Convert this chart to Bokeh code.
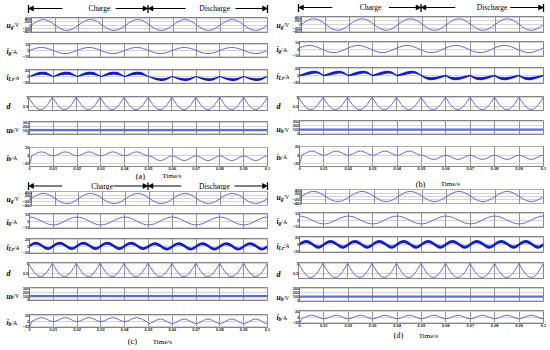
from bokeh.plotting import figure
from bokeh.layouts import column, row
from bokeh.models import Range1d, FixedTicker, Arrow, NormalHead, Grid
from bokeh.core.properties import value
from bokeh.embed import file_html
from bokeh.resources import INLINE

# ---------------------------------------------------------------- data
# sample instants, 1 ms apart (0 .. 0.1 s), expressed in ms
t_ms = list(range(101))
x_tick_ms = [0, 10, 20, 30, 40, 50, 60, 70, 80, 90, 100]
x_tick_labels = ["0", "0.01", "0.02", "0.03", "0.04", "0.05", "0.06", "0.07", "0.08", "0.09", "0.1"]

# grid voltage, one 20 ms cycle read at 1 ms steps (V)
ug_cycle = [0, 96, 183, 252, 296, 311, 296, 252, 183, 96,
            0, -96, -183, -252, -296, -311, -296, -252, -183, -96]
# grid current, one 20 ms cycle (A)
ig_cycle_a = [0, 1.5, 2.9, 4.0, 4.8, 5.0, 4.8, 4.0, 2.9, 1.5,
              0, -1.5, -2.9, -4.0, -4.8, -5.0, -4.8, -4.0, -2.9, -1.5]
ig_cycle_b = [1.7, 3.2, 4.4, 5.2, 5.5, 5.2, 4.4, 3.2, 1.7, 0,
              -1.7, -3.2, -4.4, -5.2, -5.5, -5.2, -4.4, -3.2, -1.7, 0]
ig_cycle_cd = [6, 5.7, 4.9, 3.5, 1.9, 0, -1.9, -3.5, -4.9, -5.7,
               -6, -5.7, -4.9, -3.5, -1.9, 0, 1.9, 3.5, 4.9, 5.7]

# resonant current ripple band (upper / lower envelope), one 10 ms cycle (A)
ilr_a_up_charge = [1.5, 5.0, 9.0, 12.5, 15.0, 16.0, 16.0, 14.5, 11.0, 6.0]
ilr_a_lo_charge = [-1.5, 0.0, 2.0, 3.8, 5.0, 5.8, 6.0, 5.2, 3.5, 1.0]
ilr_a_up_dis = [1.5, -0.5, -2.5, -4.0, -5.0, -5.5, -5.5, -4.8, -3.2, -0.8]
ilr_a_lo_dis = [-1.5, -5.0, -8.5, -11.5, -13.5, -14.5, -14.5, -13.0, -10.0, -5.5]
ilr_b_up_charge = [2.0, 4.5, 7.0, 9.5, 11.5, 13.0, 13.5, 13.0, 10.5, 6.0]
ilr_b_lo_charge = [-2.0, -1.5, 0.0, 1.5, 3.0, 4.5, 5.5, 5.5, 4.0, 1.5]
ilr_b_up_dis = [2.0, -1.5, -3.5, -4.5, -5.0, -4.5, -3.5, -2.5, -1.0, 0.5]
ilr_b_lo_dis = [-2.0, -7.0, -11.0, -13.0, -13.5, -13.0, -11.5, -9.5, -7.0, -4.0]
ilr_c_up_charge = [4.5, 9.5, 12.5, 13.0, 10.5, 6.5, 1.5, -2.5, -3.5, -0.5]
ilr_c_lo_charge = [-4.5, 0.5, 3.5, 4.0, 1.5, -2.5, -7.5, -11.5, -12.5, -9.5]
ilr_c_up_dis = [3.0, 8.0, 11.0, 11.5, 9.0, 5.0, 0.0, -4.0, -5.0, -2.0]
ilr_c_lo_dis = [-6.0, -1.0, 2.0, 2.5, 0.0, -4.0, -9.0, -13.0, -14.0, -11.0]
ilr_d_up = [4.5, 9.5, 12.5, 13.0, 10.5, 6.5, 1.5, -2.5, -3.5, -0.5]
ilr_d_lo = [-4.5, 0.5, 3.5, 4.0, 1.5, -2.5, -7.5, -11.5, -12.5, -9.5]

# duty ratio, one 10 ms cycle
d_cycle = [1.0, 0.79, 0.60, 0.45, 0.35, 0.32, 0.35, 0.45, 0.60, 0.79]

# battery voltage (V)
ub_level = 100

# battery current, one 10 ms cycle (A), and the start-up value at t = 0
ib_a_charge = [0, 1.0, 3.5, 6.5, 9.0, 10.0, 9.0, 6.5, 3.5, 1.0]
ib_a_dis = [0, -1.2, -4.2, -7.8, -10.8, -12.0, -10.8, -7.8, -4.2, -1.2]
ib_b_charge = [0, 1.0, 3.5, 6.5, 9.0, 10.0, 9.0, 6.5, 3.5, 1.0]
ib_b_dis = [0, -1.0, -3.5, -6.5, -9.0, -10.0, -9.0, -6.5, -3.5, -1.0]
ib_c_charge = [-2, -0.7, 2.8, 7.2, 10.7, 12, 10.7, 7.2, 2.8, -0.7]
ib_c_dis = [-9, -7.5, -3.5, 1.5, 5.5, 7, 5.5, 1.5, -3.5, -7.5]
ib_d = [-6, -4.9, -1.9, 1.9, 4.9, 6, 4.9, 1.9, -1.9, -4.9]
ib_start = -22


def series(charge, discharge=None, first=None):
    """Lay the read cycles out over 0..100 ms (charge before 50 ms, discharge after)."""
    if discharge is None:
        discharge = charge
    out = []
    for i in t_ms:
        cyc = charge if i < 50 else discharge
        out.append(cyc[i % len(cyc)])
    if first is not None:
        out[0] = first
    return out


panels = {
    "a": dict(ig=series(ig_cycle_a),
              ilr=(series(ilr_a_lo_charge, ilr_a_lo_dis), series(ilr_a_up_charge, ilr_a_up_dis)),
              ib=series(ib_a_charge, ib_a_dis, ib_start)),
    "b": dict(ig=series(ig_cycle_b),
              ilr=(series(ilr_b_lo_charge, ilr_b_lo_dis), series(ilr_b_up_charge, ilr_b_up_dis)),
              ib=series(ib_b_charge, ib_b_dis, ib_start)),
    "c": dict(ig=series(ig_cycle_cd),
              ilr=(series(ilr_c_lo_charge, ilr_c_lo_dis), series(ilr_c_up_charge, ilr_c_up_dis)),
              ib=series(ib_c_charge, ib_c_dis, ib_start)),
    "d": dict(ig=series(ig_cycle_cd),
              ilr=(series(ilr_d_lo), series(ilr_d_up)),
              ib=series(ib_d, ib_d, ib_start)),
}
ug_series = series(ug_cycle)
d_series = series(d_cycle)
ub_series = [ub_level for _ in t_ms]

# ---------------------------------------------------------------- style / layout
AXF = "Liberation Sans"
SERIF = "Liberation Serif"
LINE = "#5a68ff"
BAND = "#0b18f0"
GRID_X = "#959595"
GRID_Y = "#d4d4d4"
FRAME = "#858585"
LW = 19          # width of the y-title strip left of each plot
AXW = 9          # room for the tick labels
BL = LW + AXW    # frame left offset inside a column

CW = {"u": .556, "i": .278, "d": .5, "g": .5, "L": .611, "r": .389, "b": .5,
      "/": .278, "V": .722, "A": .722}


def text_w(s, size):
    return sum(CW.get(c, .5) for c in s) * size


YLAB = {
    "ug": [("u", 7.6, "bold italic", 2.5), ("g", 5.4, "bold italic", 4.4), ("/V", 5.8, "normal", 2.5)],
    "ig": [("i", 7.6, "bold italic", 2.5), ("g", 5.4, "bold italic", 4.4), ("/A", 5.8, "normal", 2.5)],
    "ilr": [("i", 7.6, "bold italic", 2.5), ("Lr", 5.4, "bold italic", 4.4), ("/A", 5.8, "normal", 2.5)],
    "d": [("d", 8.0, "bold italic", 2.7)],
    "ub": [("u", 7.6, "bold italic", 2.5), ("b", 5.4, "bold italic", 4.4), ("/V", 5.8, "normal", 2.5)],
    "ib": [("i", 7.6, "bold italic", 2.5), ("b", 5.4, "bold italic", 4.4), ("/A", 5.8, "normal", 2.5)],
}
YCFG = {
    "ug": dict(yr=(-430, 430), ticks=[-400, -200, 0, 200, 400], ylab_y=0),
    "ig": dict(yr=(-11.5, 11.5), ticks=[-10, 0, 10], ylab_y=0),
    "ilr": dict(yr=(-23, 23), ticks=[-20, 0, 20], ylab_y=0),
    "d": dict(yr=(0.27, 1.04), ticks=[0.5, 1], ylab_y=0.55),
    "ub": dict(yr=(-15, 320), ticks=[0, 100, 200, 300], ylab_y=95),
    "ib_top": dict(yr=(-27, 21), ticks=[-20, 0, 20], ylab_y=0),
    "ib_bot": dict(yr=(-23, 23), ticks=[-20, 0, 20], ylab_y=0),
}


def strip_fig(W, h, x_range, bl=0, br=0):
    p = figure(width=W, height=h, output_backend="svg", toolbar_location=None, title=None,
               x_range=x_range, y_range=Range1d(h, 0),
               x_axis_location=None, y_axis_location=None,
               min_border_left=bl, min_border_right=br, min_border_top=0, min_border_bottom=0,
               outline_line_color=None, background_fill_color="white",
               border_fill_color="white")
    p.grid.grid_line_color = None
    return p


def label_fig(h, bt, bb, kind, cfg):
    p = strip_fig(LW, h, Range1d(0, LW))
    fh = h - bt - bb
    y0, y1 = cfg["yr"]
    yc = bt + (y1 - cfg["ylab_y"]) / (y1 - y0) * fh
    x = 6.0
    for txt, size, style, dy in YLAB[kind]:
        p.text(x=[x], y=[yc + dy], text=[txt], text_font=value(SERIF),
               text_font_size=value(f"{size}px"), text_font_style=value(style),
               text_color="black", text_align=value("left"), text_baseline=value("alphabetic"))
        x += text_w(txt, size)
    return p


def style_axis(ax):
    ax.major_label_text_font = AXF
    ax.major_label_text_font_size = "4px"
    ax.major_label_text_font_style = "bold"
    ax.major_label_text_color = "#222222"
    ax.major_label_standoff = 0
    ax.major_tick_out = 0
    ax.major_tick_in = 0
    ax.minor_tick_out = 0
    ax.minor_tick_in = 0
    ax.axis_line_color = None


def plot_row(W, br, top, bottom, ftop, fbottom, kind, cfg, with_x=False):
    h = bottom - top
    bt = ftop - top
    bb = bottom - fbottom
    p = figure(width=W - LW, height=h, output_backend="svg", toolbar_location=None, title=None,
               x_range=Range1d(0, 100), y_range=Range1d(cfg["yr"][0], cfg["yr"][1]),
               x_axis_location="below" if with_x else None,
               min_border_left=AXW, min_border_right=br,
               min_border_top=bt, min_border_bottom=bb,
               outline_line_color=FRAME, outline_line_width=1,
               background_fill_color="white", border_fill_color="white")
    yax = p.yaxis[0]
    yax.ticker = FixedTicker(ticks=cfg["ticks"])
    if kind == "d":
        yax.major_label_overrides = {1: "1", 0.5: "0.5"}
    style_axis(yax)
    p.ygrid.grid_line_color = GRID_Y
    if with_x:
        xax = p.xaxis[0]
        xax.ticker = FixedTicker(ticks=x_tick_ms)
        xax.major_label_overrides = dict(zip(x_tick_ms, x_tick_labels))
        style_axis(xax)
        p.xgrid.grid_line_color = GRID_X
    else:
        p.xgrid.grid_line_color = None
        p.add_layout(Grid(dimension=0, ticker=FixedTicker(ticks=x_tick_ms),
                          grid_line_color=GRID_X))
    lab = label_fig(h, bt, bb, kind, cfg)
    return p, row(lab, p, spacing=0)


def frame_xrange(W, br, padl, padr):
    k = 100.0 / (W - BL - br)
    return Range1d(-padl * k, 100 + padr * k)


def add_header(p, top, arrow_y, bar, spec):
    ay = arrow_y - top
    b0, b1 = bar[0] - top, bar[1] - top
    bars = [0, 50, 100]
    p.segment(x0=bars, y0=[b0] * 3, x1=bars, y1=[b1] * 3, line_color="black", line_width=1.3)
    for xs, xe in spec["arrows"]:
        p.add_layout(Arrow(x_start=xs, y_start=ay, x_end=xe, y_end=ay, line_color="black",
                           line_width=1,
                           end=NormalHead(size=5, fill_color="black", line_color="black",
                                          line_width=0.5)))
    p.text(x=spec["text_x"], y=[ay, ay], text=["Charge", "Discharge"], text_font=value(SERIF),
           text_font_size=value("7.6px"), text_color="black", text_align=value("center"),
           text_baseline=value("middle"))


def add_caption(p, top, cap_y, letter, lx, tx):
    cy = cap_y - top
    p.text(x=[lx], y=[cy], text=[f"({letter})"], text_font=value(SERIF),
           text_font_size=value("8.4px"), text_color="black", text_align=value("center"),
           text_baseline=value("middle"))
    p.text(x=[tx], y=[cy], text=["Time/s"], text_font=value(SERIF),
           text_font_size=value("7px"), text_color="black", text_align=value("center"),
           text_baseline=value("middle"))


def strip(W, br, top, bottom, header=None, caption=None):
    padl, padr = 4, min(4, br)
    p = strip_fig(W, bottom - top, frame_xrange(W, br, padl, padr), BL - padl, br - padr)
    if header is not None:
        add_header(p, top, *header)
    if caption is not None:
        add_caption(p, top, *caption)
    return p


def panel_items(letter, W, br, geo):
    items = []
    pdat = panels[letter]
    rows = geo["rows"]
    p, r = plot_row(W, br, *rows["ug"], "ug", YCFG["ug"])
    p.line(t_ms, ug_series, line_color=LINE, line_width=1)
    items.append(r)
    p, r = plot_row(W, br, *rows["ig"], "ig", YCFG["ig"])
    p.line(t_ms, pdat["ig"], line_color=LINE, line_width=1)
    items.append(r)
    p, r = plot_row(W, br, *rows["ilr"], "ilr", YCFG["ilr"])
    p.varea(x=t_ms, y1=pdat["ilr"][0], y2=pdat["ilr"][1], fill_color=BAND)
    items.append(r)
    p, r = plot_row(W, br, *rows["d"], "d", YCFG["d"])
    p.line(t_ms, d_series, line_color=LINE, line_width=1)
    items.append(r)
    p, r = plot_row(W, br, *rows["ub"], "ub", YCFG["ub"])
    p.line(t_ms, ub_series, line_color=LINE, line_width=2.2)
    items.append(r)
    p, r = plot_row(W, br, *rows["ib"], "ib", YCFG[geo["ibcfg"]], with_x=True)
    p.line(t_ms, pdat["ib"], line_color=LINE, line_width=1)
    items.append(r)
    return items


# header / caption placements: (arrow y, bar span, arrows in ms, text centres in ms)
HDR = {
    "a": (8, (4.5, 12.5), dict(arrows=[(14.2, 0), (36.5, 50), (65.7, 50), (86.6, 100)], text_x=[29.7, 77.9])),
    "b": (7, (3.5, 11.5), dict(arrows=[(13.8, 0), (36.9, 50), (64.0, 50), (86.4, 100)], text_x=[29.4, 79.0])),
    "c": (185.5, (182, 190), dict(arrows=[(14.1, 0), (35.6, 50), (64.0, 50), (86.2, 100)], text_x=[30.8, 77.8])),
}
CAP = {"a": (175.5, "a", 46.8, 60.0), "b": (183.5, "b", 49.8, 62.0),
       "c": (341, "c", 43.5, 56.0), "d": (335, "d", 40.8, 53.0)}

# cell top, cell bottom, frame top, frame bottom (page pixels)
GEO = {
    "a": dict(rows=dict(ug=(15, 38, 17, 32), ig=(38, 63, 43, 57), ilr=(63, 89, 69, 83),
                        d=(89, 115, 96, 110), ub=(115, 140, 121, 134), ib=(140, 172, 147, 166)),
              ibcfg="ib_top"),
    "c": dict(rows=dict(ug=(190, 209, 191, 205), ig=(209, 233, 213, 228), ilr=(233, 257, 238, 253),
                        d=(257, 281, 262, 277), ub=(281, 306, 287, 300), ib=(306, 333, 314, 327)),
              ibcfg="ib_bot"),
    "b": dict(rows=dict(ug=(14, 37, 16, 32), ig=(37, 62, 41, 56), ilr=(62, 89, 67, 83),
                        d=(89, 115, 96, 110), ub=(115, 140, 120, 134), ib=(140, 172, 146, 166)),
              ibcfg="ib_top"),
    "d": dict(rows=dict(ug=(188, 207, 189, 203), ig=(207, 231, 212, 227), ilr=(231, 256, 236, 252),
                        d=(256, 281, 262, 278), ub=(281, 305, 287, 301), ib=(305, 330, 310, 323)),
              ibcfg="ib_bot"),
}

WL, BRL = 270, 3
WR, BRR = 280, 7

left_items = ([strip(WL, BRL, 0, 15, header=HDR["a"])]
              + panel_items("a", WL, BRL, GEO["a"])
              + [strip(WL, BRL, 172, 190, header=HDR["c"], caption=CAP["a"])]
              + panel_items("c", WL, BRL, GEO["c"])
              + [strip(WL, BRL, 333, 350, caption=CAP["c"])])
right_items = ([strip(WR, BRR, 0, 14, header=HDR["b"])]
               + panel_items("b", WR, BRR, GEO["b"])
               + [strip(WR, BRR, 172, 188, caption=CAP["b"])]
               + panel_items("d", WR, BRR, GEO["d"])
               + [strip(WR, BRR, 330, 350, caption=CAP["d"])])

layout = row(column(*left_items, spacing=0), column(*right_items, spacing=0), spacing=0)

open("out.html", "w").write(file_html(layout, INLINE))
